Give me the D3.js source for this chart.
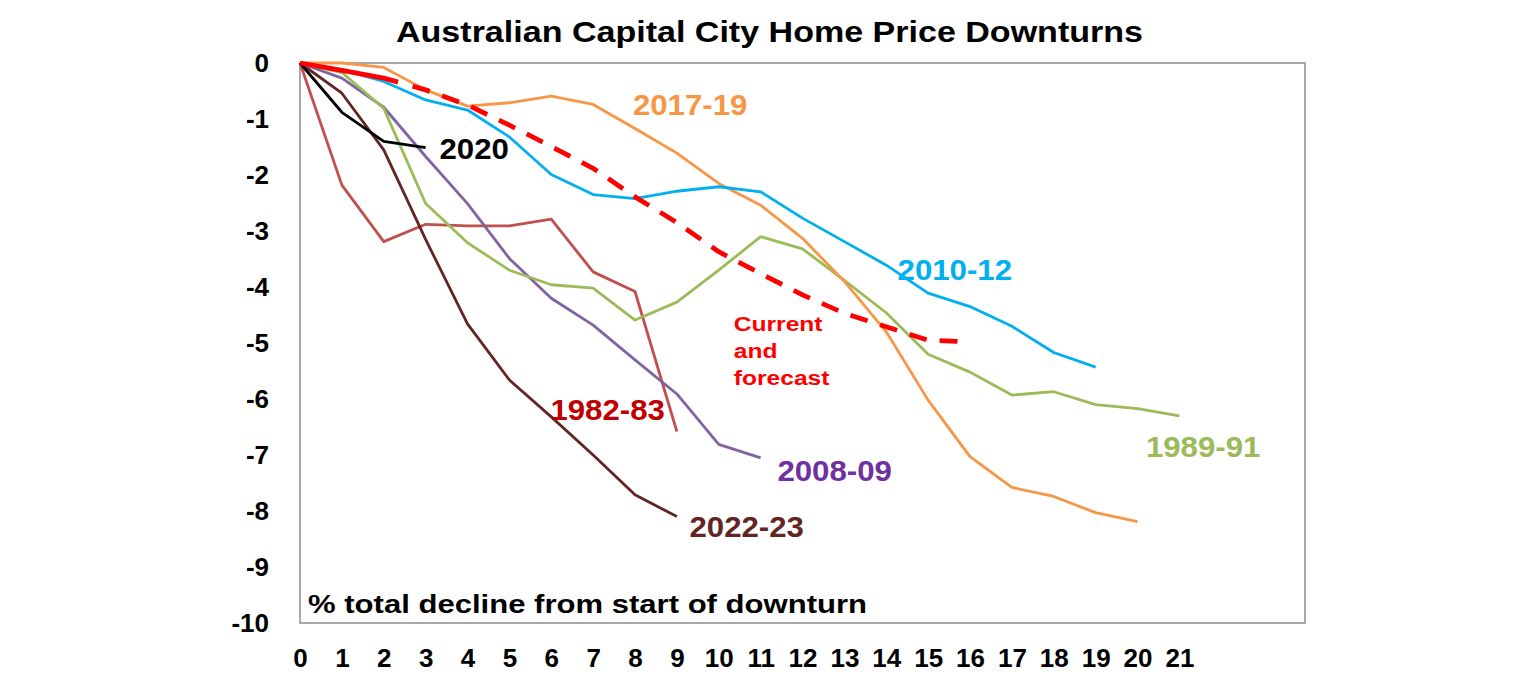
<!DOCTYPE html>
<html>
<head>
<meta charset="utf-8">
<script src="https://cdn.jsdelivr.net/npm/d3@7"></script>
<style>
  body { margin: 0; background: #fff; }
  svg text { font-family: Arial, "Liberation Sans", sans-serif; font-weight: bold; }
</style>
</head>
<body>
<div id="chart"></div>
<script>
// months since start of downturn
var months = d3.range(0, 22);
var yTicks = d3.range(0, -11, -1);

// % decline from peak, one array per downturn
var s1982 = [0, -2.18, -3.19, -2.88, -2.91, -2.91, -2.79, -3.73, -4.08, -6.58];
var s1989 = [0, -0.17, -0.81, -2.51, -3.21, -3.70, -3.96, -4.02, -4.59, -4.27, -3.70,
             -3.10, -3.32, -3.88, -4.46, -5.20, -5.52, -5.93, -5.87, -6.10, -6.17, -6.30];
var s2008 = [0, -0.27, -0.79, -1.67, -2.51, -3.49, -4.20, -4.68, -5.30, -5.91, -6.81, -7.05];
var s2010 = [0, -0.12, -0.33, -0.66, -0.84, -1.32, -1.99, -2.35, -2.42, -2.29, -2.21,
             -2.30, -2.77, -3.19, -3.61, -4.11, -4.35, -4.70, -5.17, -5.43];
var s2017 = [0, 0, -0.08, -0.48, -0.77, -0.71, -0.59, -0.74, -1.17, -1.61, -2.15,
             -2.54, -3.13, -3.90, -4.80, -6.02, -7.03, -7.58, -7.74, -8.03, -8.19];
var s2020 = [0, -0.88, -1.40, -1.51];
var s2022 = [0, -0.54, -1.55, -3.15, -4.66, -5.66, -6.32, -7.00, -7.71, -8.10];
var sCurrent = [0, -0.13, -0.27, -0.48, -0.75, -1.11, -1.49, -1.88, -2.39, -2.85, -3.37,
                -3.76, -4.14, -4.47, -4.71, -4.95, -4.98];

var series = [
    {name: "1982-83", values: s1982, color: "#C0504D"},
    {name: "2022-23", values: s2022, color: "#632523"},
    {name: "2008-09", values: s2008, color: "#8064A2"},
    {name: "1989-91", values: s1989, color: "#9BBB59"},
    {name: "2017-19", values: s2017, color: "#F79646"},
    {name: "2010-12", values: s2010, color: "#00B0F0"},
    {name: "2020", values: s2020, color: "#000000"},
    {name: "current", values: sCurrent, color: "#FF0000", dashed: true}
];

// series labels: text, anchor position in data units, colour
var labels = [
    {text: "2020", x: 3.33, y: -1.71, color: "#000000"},
    {text: "2017-19", x: 7.95, y: -0.93, color: "#F79646"},
    {text: "2010-12", x: 14.27, y: -3.87, color: "#00B0F0"},
    {text: "1982-83", x: 5.98, y: -6.37, color: "#C00000"},
    {text: "2008-09", x: 11.4, y: -7.46, color: "#7030A0"},
    {text: "2022-23", x: 9.3, y: -8.46, color: "#632523"},
    {text: "1989-91", x: 20.2, y: -7.03, color: "#9BBB59"}
];
var forecastLines = ["Current", "and", "forecast"];

var width = 1536, height = 680;
var margin = {top: 63, left: 300, right: 231, bottom: 57};

var svg = d3.select("#chart").append("svg")
    .attr("width", width)
    .attr("height", height);

var x = d3.scaleLinear().domain([0, 24]).range([margin.left, width - margin.right]);
var y = d3.scaleLinear().domain([0, -10]).range([margin.top, height - margin.bottom]);

// title
svg.append("text")
    .attr("x", 396)
    .attr("y", 42)
    .attr("font-size", 30)
    .attr("textLength", 747)
    .attr("lengthAdjust", "spacingAndGlyphs")
    .attr("fill", "#000")
    .text("Australian Capital City Home Price Downturns");

// plot frame
svg.append("rect")
    .attr("x", x(0))
    .attr("y", y(0))
    .attr("width", x(24) - x(0))
    .attr("height", y(-10) - y(0))
    .attr("fill", "none")
    .attr("stroke", "#8c8c8c")
    .attr("stroke-width", 1.5);

// y axis (plain hyphen for negatives, like the original)
var yAxis = svg.append("g")
    .attr("transform", "translate(" + (x(0) - 31) + ",0)")
    .call(d3.axisLeft(y).tickValues(yTicks).tickSize(0).tickPadding(0)
        .tickFormat(function(d) { return String(d); }));
yAxis.select(".domain").remove();
yAxis.selectAll("text")
    .attr("font-size", 26)
    .attr("fill", "#000")
    .attr("font-family", "Arial, 'Liberation Sans', sans-serif");

// x axis
var xAxis = svg.append("g")
    .attr("transform", "translate(0," + (y(-10) + 26) + ")")
    .call(d3.axisBottom(x).tickValues(months).tickSize(0).tickPadding(0)
        .tickFormat(function(d) { return String(d); }));
xAxis.select(".domain").remove();
xAxis.selectAll("text")
    .attr("font-size", 26)
    .attr("fill", "#000")
    .attr("font-family", "Arial, 'Liberation Sans', sans-serif");

// axis note inside plot
svg.append("text")
    .attr("x", x(0) + 8)
    .attr("y", y(-10) - 10)
    .attr("font-size", 25)
    .attr("textLength", 559)
    .attr("lengthAdjust", "spacingAndGlyphs")
    .attr("fill", "#000")
    .text("% total decline from start of downturn");

// lines
var line = d3.line()
    .x(function(d, i) { return x(i); })
    .y(function(d) { return y(d); });

var paths = svg.append("g").attr("class", "lines")
    .selectAll("path")
    .data(series)
    .enter().append("path")
    .attr("d", function(s) { return line(s.values); })
    .attr("fill", "none")
    .attr("stroke", function(s) { return s.color; })
    .attr("stroke-width", function(s) { return s.dashed ? 4.8 : 2.8; })
    .attr("stroke-linejoin", "round");

// forecast line: long solid lead-in, then regular dashes
paths.filter(function(s) { return s.dashed; })
    .attr("stroke-dasharray", function() {
        var total = this.getTotalLength();
        var dashes = [100, 15];
        var len = 115;
        while (len < total + 40) {
            dashes.push(18, 13);
            len += 31;
        }
        return dashes.join(",");
    });

// series labels
svg.append("g").attr("class", "labels")
    .selectAll("text")
    .data(labels)
    .enter().append("text")
    .attr("transform", function(d) {
        return "translate(" + x(d.x) + "," + y(d.y) + ") scale(1.04,1)";
    })
    .attr("font-size", 30)
    .attr("fill", function(d) { return d.color; })
    .text(function(d) { return d.text; });

// current and forecast note
svg.append("g").attr("class", "forecast-note")
    .selectAll("text")
    .data(forecastLines)
    .enter().append("text")
    .attr("transform", function(d, i) {
        return "translate(" + x(10.36) + "," + (y(-4.79) + i * 27) + ") scale(1.17,1)";
    })
    .attr("font-size", 21)
    .attr("fill", "#FF0000")
    .text(function(d) { return d; });
</script>
</body>
</html>
